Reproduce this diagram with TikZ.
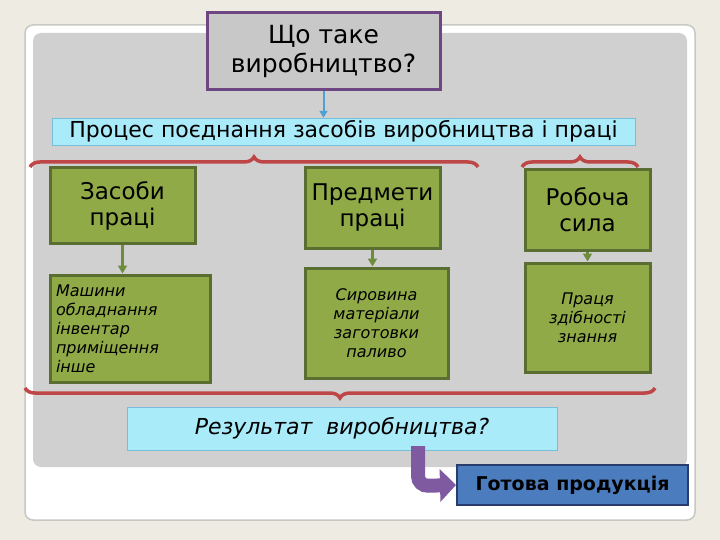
\documentclass[tikz,border=0pt]{standalone}
\usepackage{fontspec}
\setmainfont{DejaVu Sans}
\usetikzlibrary{arrows.meta,decorations.pathreplacing}
\definecolor{cream}{RGB}{238,235,226}
\definecolor{cardline}{RGB}{200,200,195}
\definecolor{panel}{RGB}{208,208,208}
\definecolor{gfill}{RGB}{143,170,70}
\definecolor{gline}{RGB}{90,110,50}
\definecolor{garr}{RGB}{110,140,60}
\definecolor{cline}{RGB}{120,190,220}
\definecolor{cfill}{RGB}{170,235,250}
\definecolor{rbr}{RGB}{190,70,70}
\definecolor{tline}{RGB}{110,70,130}
\definecolor{tfill}{RGB}{200,200,200}
\definecolor{barr}{RGB}{80,160,210}
\definecolor{gpline}{RGB}{40,60,110}
\definecolor{gpfill}{RGB}{75,125,190}
\definecolor{parr}{RGB}{128,90,160}
\begin{document}
\begin{tikzpicture}[x=1pt,y=-1pt,
  gbox/.style={draw=gline,line width=3pt,fill=gfill,align=center,text=black},
  cbox/.style={draw=cline,fill=cfill,inner sep=0pt},
  garrow/.style={-{Triangle[length=8pt,width=9pt]},line width=3pt,draw=garr},
  rbrace/.style={decorate,decoration={brace,amplitude=10pt},line width=3.5pt,draw=rbr}]
\fill[cream] (0,0) rectangle (720,540);
\useasboundingbox (0,0) rectangle (720,540);
\draw[fill=white,rounded corners=8pt,draw=cardline,line width=1.5pt] (25,25) rectangle (695,520);
\fill[panel,rounded corners=8pt] (33,33) rectangle (687,467);
\node[draw=tline,line width=3pt,fill=tfill,minimum width=233pt,minimum height=77pt,align=center,font=\fontsize{25}{29}\selectfont] (title) at (323.5,51.5) {Що таке\\виробництво?};
\node[cbox,minimum width=583pt,minimum height=27pt,font=\fontsize{22}{25}\selectfont] (proc) at (343.5,131.5) {Процес поєднання засобів виробництва і праці};
\draw[-{Triangle[length=7pt,width=8pt]},line width=2pt,draw=barr] (title.south) -- (proc.north -| title.south);
\draw[rbrace] (30,167) -- (478,167);
\draw[rbrace] (522,167) -- (638,167);
\node[gbox,minimum width=145pt,minimum height=75pt,font=\fontsize{23}{26}\selectfont] (z1) at (122.5,205.5) {Засоби\\праці};
\node[gbox,minimum width=135pt,minimum height=80pt,font=\fontsize{23}{26}\selectfont] (z2) at (372.5,208) {Предмети\\праці};
\node[gbox,minimum width=125pt,minimum height=80pt,font=\fontsize{23}{26}\selectfont] (z3) at (587.5,210) {Робоча\\сила};
\node[gbox,minimum width=160pt,minimum height=107pt,align=left,font=\itshape\fontsize{16}{19}\selectfont,text width=148pt] (b1) at (130,328.5) {Машини\\обладнання\\інвентар\\приміщення\\інше};
\node[gbox,minimum width=143pt,minimum height=110pt,font=\itshape\fontsize{16}{19}\selectfont] (b2) at (376.5,323) {Сировина\\матеріали\\заготовки\\паливо};
\node[gbox,minimum width=125pt,minimum height=109pt,font=\itshape\fontsize{16}{19}\selectfont] (b3) at (587.5,317.5) {Праця\\здібності\\знання};
\draw[garrow] (z1.south) -- (b1.north -| z1.south);
\draw[garrow] (z2.south) -- (b2.north -| z2.south);
\draw[garrow] (z3.south) -- (b3.north -| z3.south);
\draw[rbrace] (655,388) -- (25,388);
\node[cbox,minimum width=430pt,minimum height=43pt,font=\itshape\fontsize{22}{25}\selectfont] (res) at (342,428.5) {Результат\ \ виробництва?};
\node[draw=gpline,line width=2pt,fill=gpfill,minimum width=231pt,minimum height=40pt,font=\bfseries\fontsize{19}{22}\selectfont] (gp) at (572.5,485) {Готова продукція};
\draw[line width=14pt,draw=parr,rounded corners=10pt,-{Triangle[length=16pt,width=32pt]}] (418,446) -- (418,486) -- (gp.west);
\end{tikzpicture}
\end{document}
